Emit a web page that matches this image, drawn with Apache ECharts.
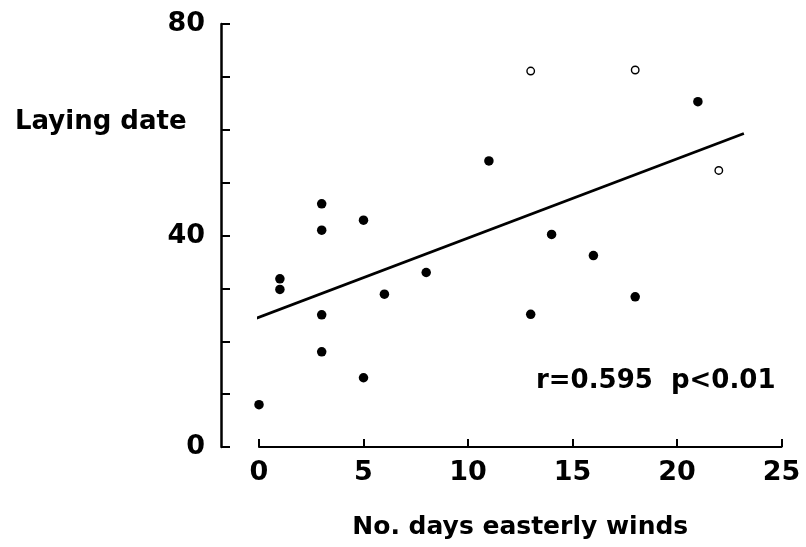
<!DOCTYPE html>
<html>
<head>
<meta charset="utf-8">
<script src="https://cdn.jsdelivr.net/npm/echarts@6/dist/echarts.min.js"></script>
<style>
  html, body { margin: 0; padding: 0; background: #fff; }
  #chart { width: 806px; height: 547px; }
</style>
</head>
<body>
<div id="chart"></div>
<script>
// 实心点: 产卵日期 vs 东风天数
const filledX = [0, 1, 1, 3, 3, 3, 3, 5, 5, 6, 8, 11, 13, 14, 16, 18, 21]
const filledY = [8, 31.8, 29.8, 46, 41, 25, 18, 42.9, 13.1, 28.9, 33, 54.1, 25.1, 40.2, 36.2, 28.4, 65.3]
// 空心点
const openX = [13, 18, 22]
const openY = [71.1, 71.3, 52.3]
// 回归线两端
const fitX = [-0.35, 23.2]
const fitY = [24.0, 59.3]

const xTicks = [0, 5, 10, 15, 20, 25]
const yLabels = [0, 40, 80]

const font = 'DejaVu Sans'

let pairs = (xs, ys) => xs.map((x, i) => [x, ys[i]])

let chart = echarts.init(document.getElementById('chart'), null, { renderer: 'canvas' })

let option = {
  backgroundColor: '#fff',
  animation: false,
  grid: [
    { left: 259, right: 24.5, top: 24, bottom: 100 },
    { left: 221, width: 10, top: 24, bottom: 100 }
  ],
  xAxis: [
    {
      gridIndex: 0,
      type: 'value',
      min: xTicks[0],
      max: xTicks[xTicks.length - 1],
      interval: 5,
      splitLine: { show: false },
      axisLine: { lineStyle: { color: '#000', width: 2 } },
      axisTick: { inside: true, length: 8, lineStyle: { color: '#000', width: 2 } },
      axisLabel: { color: '#000', fontFamily: font, fontWeight: 'bold', fontSize: 27, margin: 12 },
      name: 'No. days easterly winds',
      nameLocation: 'middle',
      nameGap: 68,
      nameTextStyle: { color: '#000', fontFamily: font, fontWeight: 'bold', fontSize: 25 }
    },
    { gridIndex: 1, type: 'value', min: 0, max: 1, show: false }
  ],
  yAxis: [
    { gridIndex: 0, type: 'value', min: 0, max: 80, show: false },
    {
      gridIndex: 1,
      type: 'value',
      min: 0,
      max: 80,
      interval: 10,
      splitLine: { show: false },
      axisLine: { show: true, lineStyle: { color: '#000', width: 2.5 } },
      axisTick: { inside: true, length: 9, lineStyle: { color: '#000', width: 2 } },
      axisLabel: {
        color: '#000',
        fontFamily: font,
        fontWeight: 'bold',
        fontSize: 27,
        margin: 16,
        formatter: v => (yLabels.indexOf(v) >= 0 ? String(v) : '')
      }
    }
  ],
  graphic: [
    {
      type: 'text',
      left: 15,
      top: 109,
      style: { text: 'Laying date', fill: '#000', font: 'bold 26px "DejaVu Sans"' }
    },
    {
      type: 'text',
      left: 536,
      top: 368,
      style: { text: 'r=0.595  p<0.01', fill: '#000', font: 'bold 26px "DejaVu Sans"' }
    }
  ],
  series: [
    {
      type: 'line',
      xAxisIndex: 0,
      yAxisIndex: 0,
      data: pairs(fitX, fitY),
      clip: false,
      symbol: 'none',
      lineStyle: { color: '#000', width: 2.8 }
    },
    {
      type: 'scatter',
      xAxisIndex: 0,
      yAxisIndex: 0,
      data: pairs(filledX, filledY),
      symbol: 'circle',
      symbolSize: 9.5,
      itemStyle: { color: '#000', opacity: 1 }
    },
    {
      type: 'scatter',
      xAxisIndex: 0,
      yAxisIndex: 0,
      data: pairs(openX, openY),
      symbol: 'circle',
      symbolSize: 7.5,
      itemStyle: { color: '#fff', borderColor: '#000', borderWidth: 1.4, opacity: 1 }
    }
  ]
}

chart.setOption(option)
</script>
</body>
</html>
